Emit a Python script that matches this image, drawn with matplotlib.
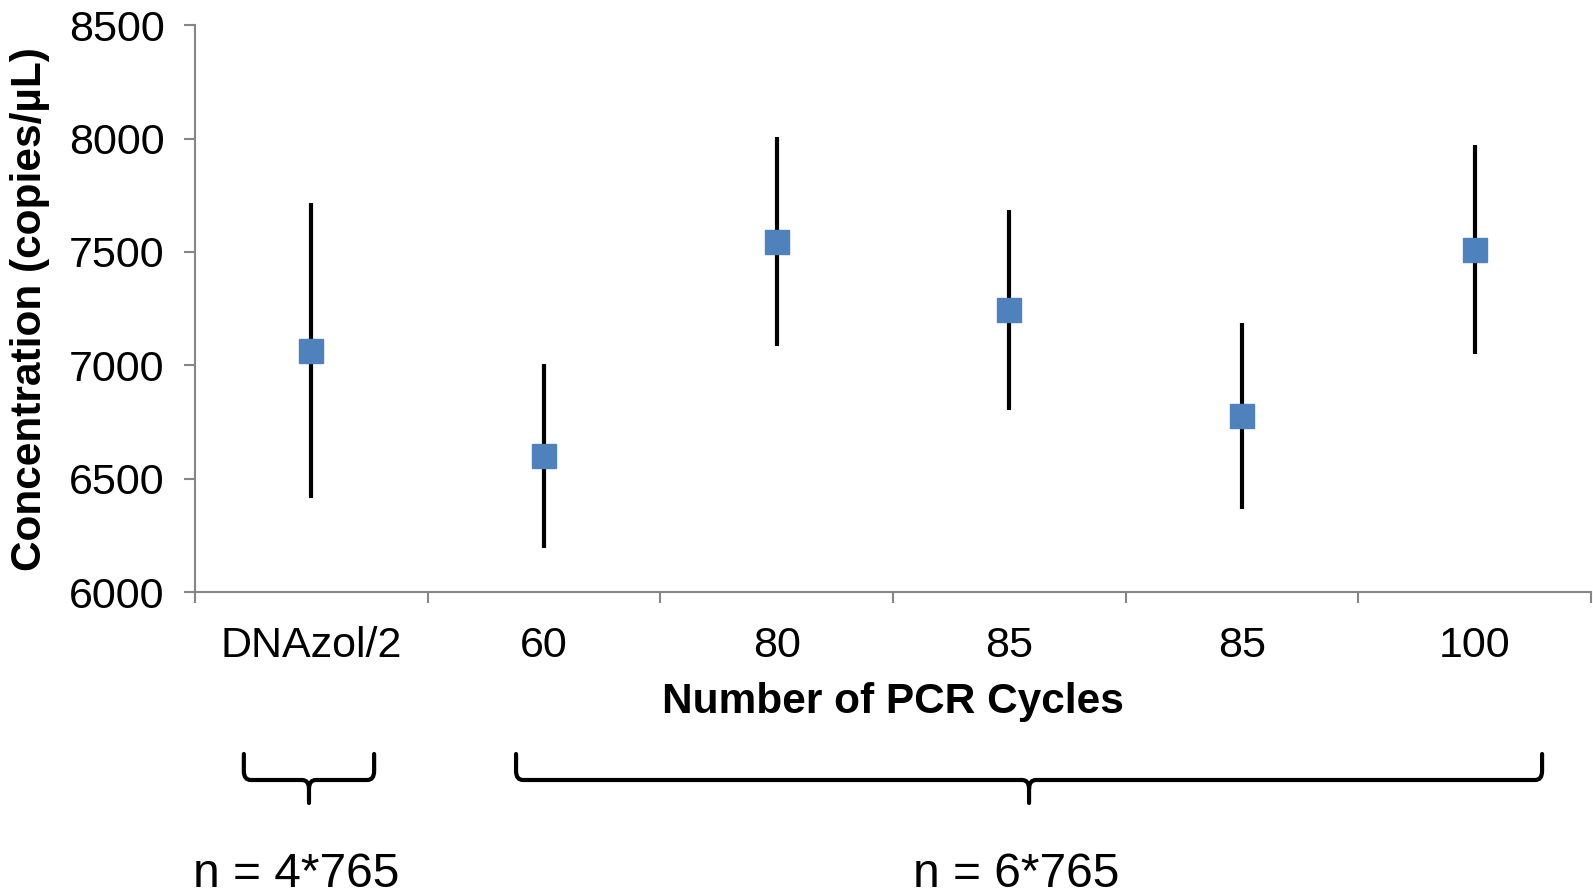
import matplotlib
matplotlib.use("Agg")
import matplotlib.pyplot as plt
import matplotlib.transforms as mtransforms
from matplotlib.path import Path
from matplotlib.patches import PathPatch

plt.rcParams['font.family'] = ['Liberation Sans', 'DejaVu Sans']

labels = ["DNAzol/2", "60", "80", "85", "85", "100"]
conc = [7065, 6600, 7545, 7245, 6775, 7510]
err = [650, 405, 460, 440, 410, 460]

groups = [(-0.29, 0.27, "n = 4*765"), (0.88, 5.29, "n = 6*765")]

fig = plt.figure(figsize=(15.93, 8.96), dpi=100)
ax = fig.add_axes([0.1224, 0.339, 0.8763, 0.633])

x = list(range(len(labels)))
ax.errorbar(x, conc, yerr=err, fmt='none', ecolor='black', elinewidth=3, capsize=0, zorder=2)
ax.plot(x, conc, 's', color='#4F81BD', markersize=17, zorder=3)

ax.set_xlim(-0.5, len(labels) - 0.5)
ax.set_ylim(6000, 8500)
ax.set_yticks(range(6000, 8501, 500))

ax.set_xticks([i - 0.5 for i in range(len(labels) + 1)])
ax.set_xticklabels([])
ax.set_xticks(x, minor=True)
ax.set_xticklabels(labels, minor=True)
ax.tick_params(axis='x', which='major', length=8, width=1.5, color='#868686', direction='out')
ax.tick_params(axis='x', which='minor', length=0, pad=24, labelsize=31)
ax.tick_params(axis='y', length=8, width=1.5, color='#868686', direction='out', labelsize=31, pad=14)

for side in ['top', 'right']:
    ax.spines[side].set_visible(False)
for side in ['left', 'bottom']:
    ax.spines[side].set_color('#868686')
    ax.spines[side].set_linewidth(1.5)

ax.set_xlabel("Number of PCR Cycles", fontsize=30.5, fontweight='bold')
ax.xaxis.set_label_coords(0.5, -0.158)
ax.set_ylabel("Concentration (copies/\u00b5L)", fontsize=30.5, fontweight='bold')
ax.yaxis.set_label_coords(-0.104, 0.5)

# curly braces below the axis, x in data units, y in figure fraction
trans = mtransforms.blended_transform_factory(ax.transData, fig.transFigure)
txt_trans = mtransforms.offset_copy(trans, fig=fig, x=-13, y=0, units='dots')
y_top = 1 - 754 / 896
y_mid = 1 - 780 / 896
y_tip = 1 - 803 / 896
r = 0.01
for x0, x1, txt in groups:
    xm = (x0 + x1) / 2
    dx = 0.03
    verts = [
        (x0, y_top), (x0, y_mid + r), (x0, y_mid), (x0 + dx, y_mid),
        (xm - dx, y_mid), (xm, y_mid), (xm, y_mid - r), (xm, y_tip),
        (xm, y_mid - r), (xm, y_mid), (xm + dx, y_mid),
        (x1 - dx, y_mid), (x1, y_mid), (x1, y_mid + r), (x1, y_top),
    ]
    codes = [Path.MOVETO, Path.LINETO, Path.CURVE3, Path.CURVE3,
             Path.LINETO, Path.CURVE3, Path.CURVE3, Path.LINETO,
             Path.MOVETO, Path.CURVE3, Path.CURVE3,
             Path.LINETO, Path.CURVE3, Path.CURVE3, Path.LINETO]
    patch = PathPatch(Path(verts, codes), facecolor='none', edgecolor='black',
                      linewidth=3, transform=trans, clip_on=False, capstyle='round')
    fig.add_artist(patch)
    fig.text(xm, 1 - 874 / 896, txt, transform=txt_trans, fontsize=34.5,
             ha='center', va='center')

fig.savefig("out.png", dpi=100)
